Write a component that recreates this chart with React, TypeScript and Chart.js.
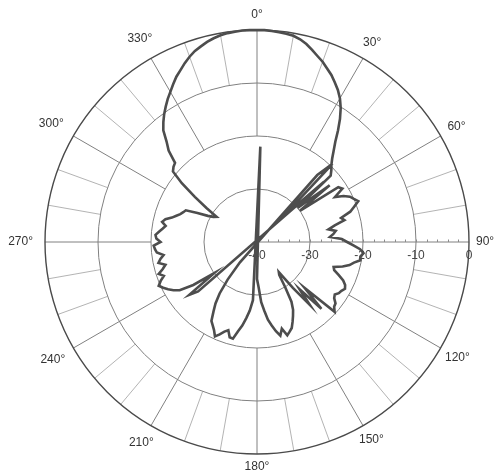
import { useEffect, useRef } from 'react';
import { Chart, registerables } from 'chart.js';

Chart.register(...registerables);

// one sample every 2°, clockwise from 0° (top)
const ANGLE_STEP = 2;
const ANGLES = Array.from({ length: 360 / ANGLE_STEP }, (_, i) => i * ANGLE_STEP);

// relative gain in dB; values below -40 fold back through the
// centre onto the opposite side, the same way the plotter drew them
const GAIN_DB = [
  // 0..28
  0, 0, -0.1, -0.2, -0.3, -0.5, -0.9, -1.5, -2.3, -3.1, -3.8, -4.7, -5.5, -6.5, -7.5,
  // 30..58
  -8.7, -10.2, -12, -14, -16, -17.5, -18.8, -19.8, -20.5, -21.3, -30, -22.6, -30, -21.5, -21,
  // 60..88
  -23, -21.5, -20.5, -20, -19.4, -20.5, -21.5, -23.5, -23, -25, -26.3, -25, -25.5, -26.2, -24,
  // 90..118
  -23, -21.8, -20.5, -19.8, -20.3, -20.2, -21.3, -22, -23.2, -24.8, -24.5, -23.4, -22.2, -21.5, -21.2,
  // 120..148
  -21.6, -21.8, -22.3, -22, -21.2, -21, -20.3, -27.5, -22.5, -28, -24.5, -29, -33, -32.5, -30,
  // 150..178
  -27, -25.5, -24.5, -23.5, -22.5, -22, -21.5, -23, -21.8, -22.8, -24, -25.2, -27, -28.6, -31.5,
  // 180..208
  -33, -58, -29, -27, -25.5, -24, -22.8, -21.2, -21.3, -22.5, -22, -21.2, -20.5, -21.5, -22.2,
  // 210..238
  -22.8, -24.5, -26, -28, -31, -35, -57, -60.5, -47, -57, -25.5, -23.8, -30, -25.5, -22.8,
  // 240..268
  -21.8, -21, -20.3, -19.7, -20.4, -21.3, -20.5, -21.5, -22.2, -21, -21.5, -22.2, -21, -20.7, -20.5,
  // 270..298
  -21.8, -21, -20.8, -21.4, -22, -22.5, -21.7, -22.2, -23.3, -24, -24.6, -25, -25.3, -27.5, -29.5,
  // 300..328
  -30.5, -31, -28.5, -25.5, -22, -19.3, -18.8, -18.5, -16, -14.5, -12.5, -11.3, -10.2, -9.2, -8.2,
  // 330..358
  -7.3, -6.3, -5.3, -4.5, -3.6, -2.8, -2.1, -1.6, -1.1, -0.7, -0.4, -0.2, -0.1, 0, 0,
];

const RING_DB = [-40, -30, -20, -10, 0];
const SPOKES = [0, 30, 60, 90, 120, 150, 180, 210, 240, 270, 300, 330];

const FONT = '12px "Liberation Sans", Arial, sans-serif';

// grid, axis and labels of the old polar chart paper
const polarPaper = {
  id: 'polarPaper',
  beforeDatasetsDraw(chart: any) {
    const scale = chart.scales.r;
    const ctx: CanvasRenderingContext2D = chart.ctx;
    const cx = scale.xCenter;
    const cy = scale.yCenter;
    const rad = (db: number) => scale.getDistanceFromCenterForValue(db);
    const R = rad(0);
    const at = (deg: number, r: number) => {
      const a = (deg * Math.PI) / 180;
      return [cx + r * Math.sin(a), cy - r * Math.cos(a)];
    };
    const spoke = (deg: number, r0: number, r1: number) => {
      const [x0, y0] = at(deg, r0);
      const [x1, y1] = at(deg, r1);
      ctx.beginPath();
      ctx.moveTo(x0, y0);
      ctx.lineTo(x1, y1);
      ctx.stroke();
    };

    ctx.save();

    // 10° spokes in the outer band
    ctx.strokeStyle = '#a0a0a0';
    ctx.lineWidth = 0.8;
    for (let d = 0; d < 360; d += 10) {
      if (d % 30 !== 0) spoke(d, rad(-10), R);
    }

    // 30° spokes from the -20 ring outwards, the 90° axis from the centre
    ctx.strokeStyle = '#808080';
    ctx.lineWidth = 1;
    SPOKES.forEach(d => spoke(d, d === 90 ? 0 : rad(-20), R));

    // rings
    RING_DB.slice(1, -1).forEach(db => {
      ctx.beginPath();
      ctx.arc(cx, cy, rad(db), 0, Math.PI * 2);
      ctx.stroke();
    });
    ctx.strokeStyle = '#4a4a4a';
    ctx.lineWidth = 1.4;
    ctx.beginPath();
    ctx.arc(cx, cy, R, 0, Math.PI * 2);
    ctx.stroke();

    // 2 dB ticks on the 90° axis
    ctx.strokeStyle = '#8a8a8a';
    ctx.lineWidth = 1;
    for (let db = -38; db < 0; db += 2) {
      const x = Math.round(cx + rad(db)) + 0.5;
      ctx.beginPath();
      ctx.moveTo(x, cy);
      ctx.lineTo(x, cy - 2.5);
      ctx.stroke();
    }

    ctx.font = FONT;
    ctx.textAlign = 'center';
    ctx.textBaseline = 'middle';

    // dB scale under the axis
    ctx.fillStyle = '#444';
    RING_DB.forEach(db => ctx.fillText(String(db), cx + rad(db), cy + 14));

    // angle labels round the rim
    ctx.fillStyle = '#333';
    SPOKES.forEach(d => {
      const text = `${d}°`;
      const a = (d * Math.PI) / 180;
      const s = Math.sin(a);
      const c = Math.cos(a);
      const w = ctx.measureText(text).width;
      const gap = 9.5 - 2.5 * s + 1.8 * c;
      const [x, y] = at(d, R + gap + (Math.abs(s) * w) / 2 + (Math.abs(c) * 9) / 2);
      ctx.fillText(text, x, y);
    });

    ctx.restore();
  },
};

export default function App() {
  const canvasRef = useRef<HTMLCanvasElement>(null);

  useEffect(() => {
    if (!canvasRef.current) return;
    const chart = new Chart(canvasRef.current, {
      type: 'radar',
      data: {
        labels: ANGLES,
        datasets: [{
          data: GAIN_DB,
          borderColor: '#4d4d4d',
          borderWidth: 2.6,
          pointRadius: 0,
          fill: false,
          tension: 0,
          clip: false,
        } as any],
      },
      options: {
        responsive: true,
        maintainAspectRatio: false,
        animation: false,
        events: [],
        layout: { padding: { left: 45, right: 25, top: 30, bottom: 21 } },
        plugins: { legend: { display: false }, tooltip: { enabled: false } },
        scales: {
          r: {
            min: -40,
            max: 0,
            ticks: { display: false, stepSize: 10 },
            grid: { display: false },
            angleLines: { display: false },
            pointLabels: { display: false },
          },
        },
      },
      plugins: [polarPaper],
    });
    return () => chart.destroy();
  }, []);

  return (
    <div style={{ position: 'fixed', left: 0, top: 0, width: 494, height: 475, background: '#fff' }}>
      <div style={{ position: 'relative', width: '100%', height: '100%' }}>
        <canvas ref={canvasRef} />
      </div>
    </div>
  );
}
